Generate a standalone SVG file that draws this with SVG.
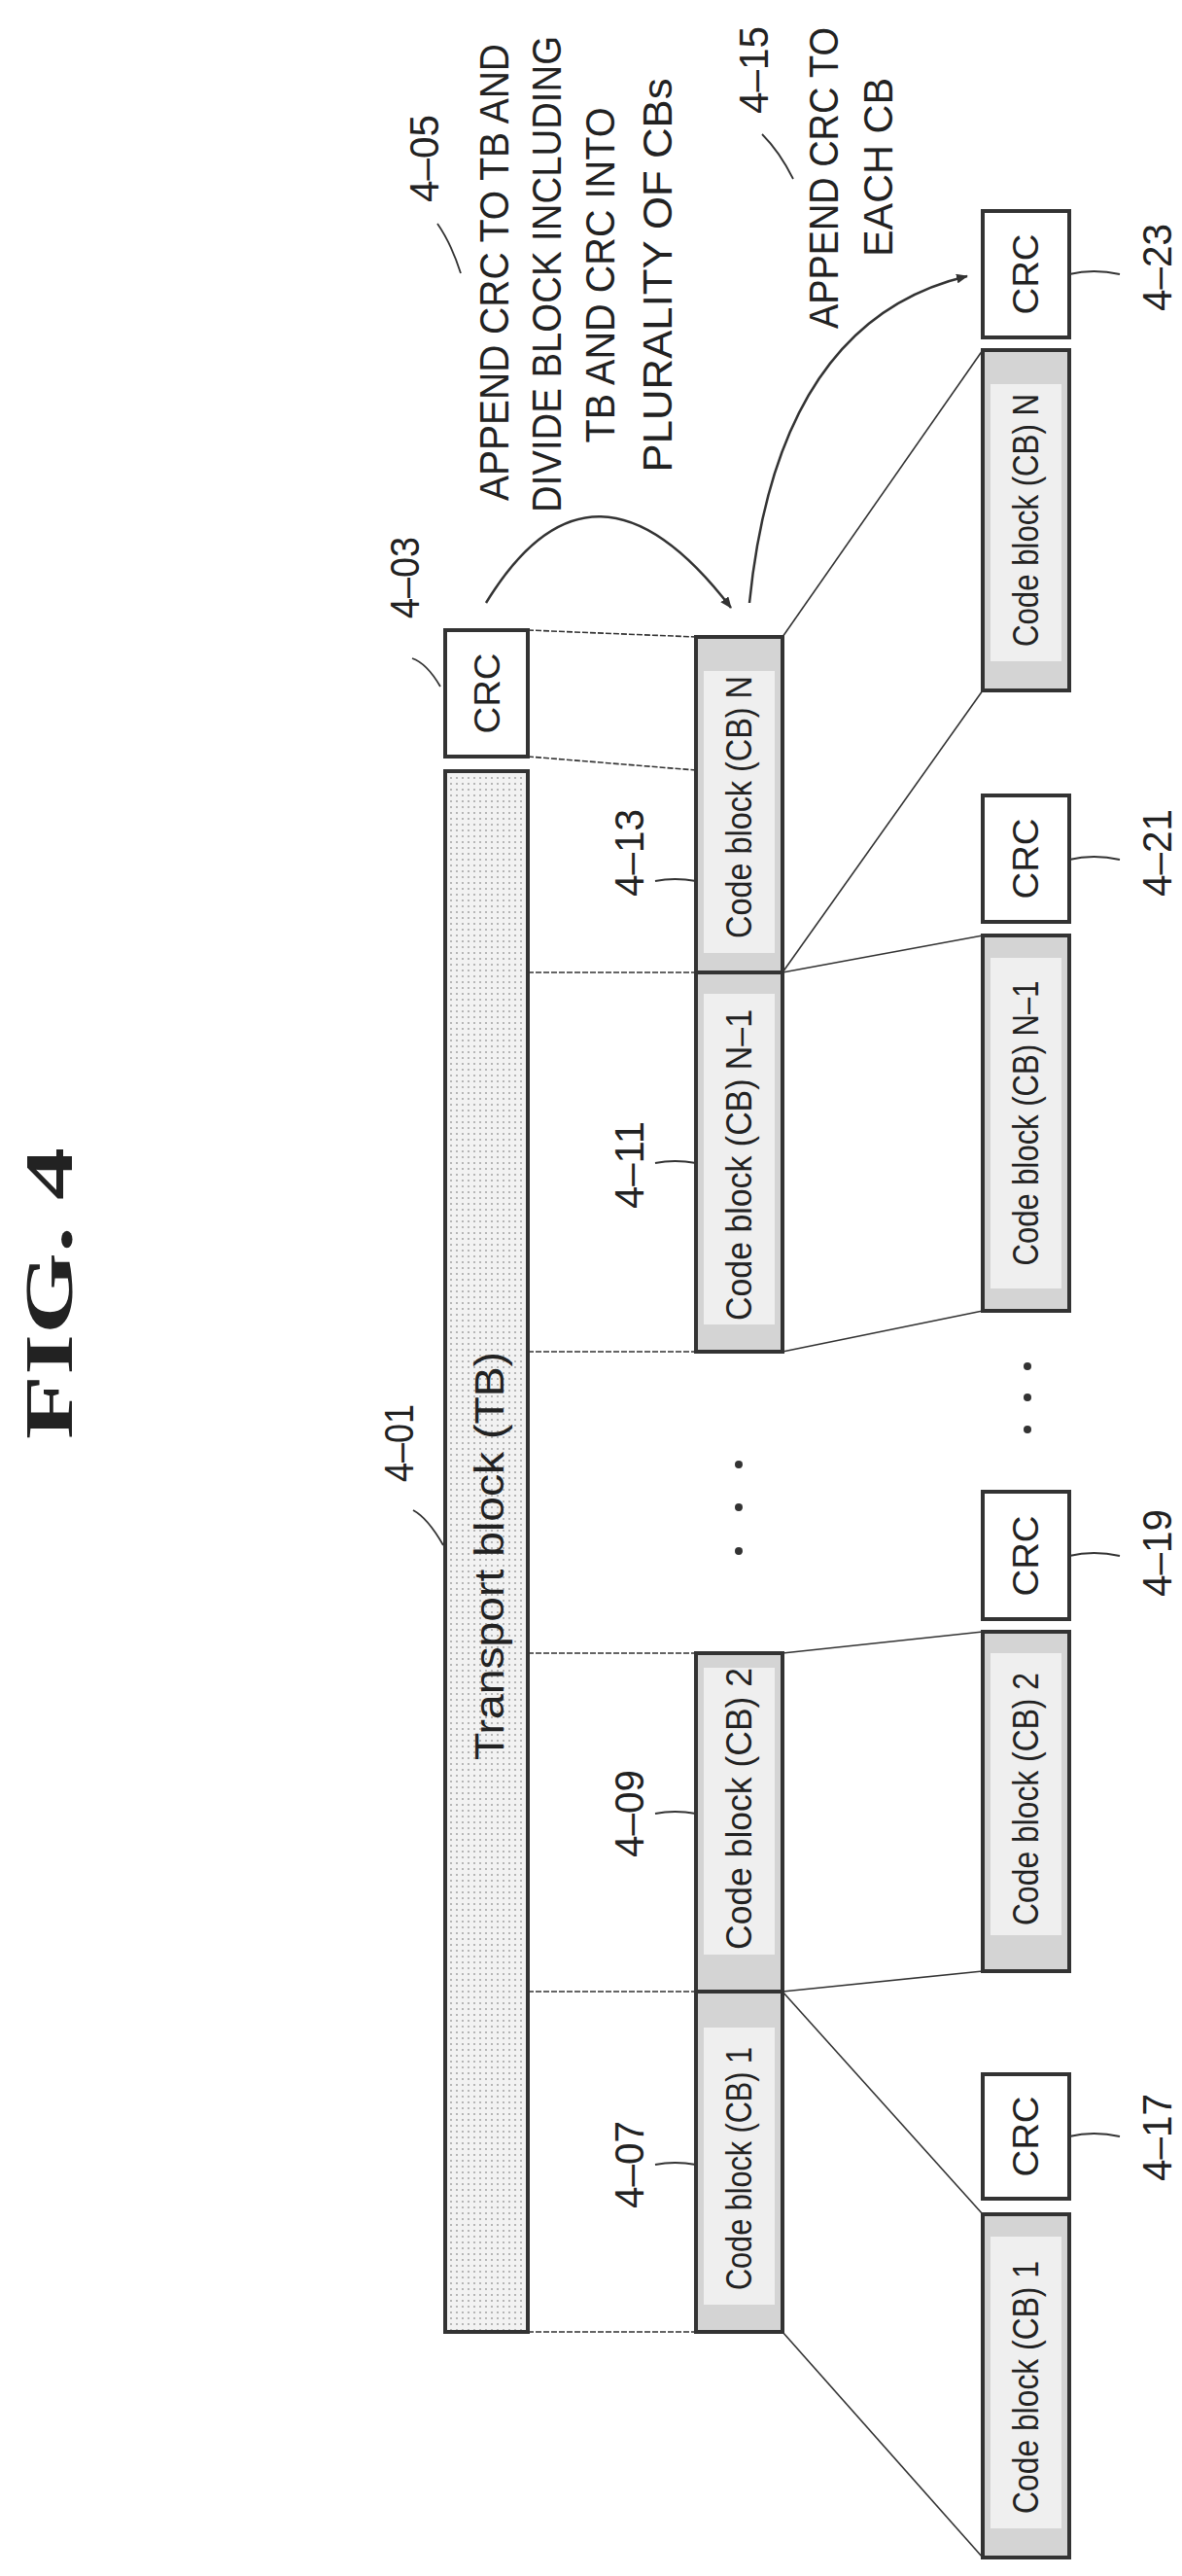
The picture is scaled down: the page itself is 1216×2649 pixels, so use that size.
<svg xmlns="http://www.w3.org/2000/svg" width="1216" height="2649" viewBox="0 0 1216 2649">
<style>
text{font-family:"Liberation Sans",Arial,sans-serif;fill:#222}
.box{fill:#fff;stroke:#333;stroke-width:4}
.tb{fill:url(#dots);stroke:#333;stroke-width:4}
.cb{fill:#d4d4d4;stroke:#333;stroke-width:4}
.cbi{fill:#efefef;stroke:none}
.ln{stroke:#333;stroke-width:1.6;fill:none}
.dl{stroke:#333;stroke-width:1.6;fill:none;stroke-dasharray:6 2}
.ld{stroke:#333;stroke-width:1.8;fill:none}
.arc{stroke:#333;stroke-width:2.5;fill:none;marker-end:url(#ah)}
.t{font-size:36px}
.n{font-size:42px}
</style>
<defs>
<pattern id="dots" width="6" height="6" patternUnits="userSpaceOnUse">
<rect width="6" height="6" fill="#f2f2f2"/><circle cx="2" cy="2" r="0.9" fill="#999"/>
</pattern>
<marker id="ah" markerWidth="12" markerHeight="10" refX="11" refY="5" orient="auto" markerUnits="userSpaceOnUse">
<path d="M0,0 L12,5 L0,10 z" fill="#333"/>
</marker>
</defs>

<text x="50" y="1330" transform="rotate(-90 50 1330)" text-anchor="middle" dominant-baseline="central" style="font-family:'Liberation Serif',serif;font-weight:bold;font-size:70px" textLength="300" lengthAdjust="spacingAndGlyphs">FIG. 4</text>

<g id="connectors">
<line class="dl" x1="543" y1="648" x2="716" y2="655"/>
<line class="dl" x1="543" y1="778" x2="716" y2="792"/>
<line class="dl" x1="543" y1="1000" x2="716" y2="1000"/>
<line class="dl" x1="543" y1="1390" x2="716" y2="1390"/>
<line class="dl" x1="543" y1="1700" x2="716" y2="1700"/>
<line class="dl" x1="543" y1="2048" x2="716" y2="2048"/>
<line class="dl" x1="543" y1="2398" x2="716" y2="2398"/>
<line class="ln" x1="805" y1="655" x2="1011" y2="360"/>
<line class="ln" x1="805" y1="1000" x2="1011" y2="710"/>
<line class="ln" x1="805" y1="1000" x2="1011" y2="962"/>
<line class="ln" x1="805" y1="1390" x2="1011" y2="1348"/>
<line class="ln" x1="805" y1="1700" x2="1011" y2="1678"/>
<line class="ln" x1="805" y1="2048" x2="1011" y2="2027"/>
<line class="ln" x1="805" y1="2048" x2="1011" y2="2277"/>
<line class="ln" x1="805" y1="2398" x2="1011" y2="2630"/>
<path class="arc" d="M500,620 Q610,440 752,625"/>
<path class="arc" d="M771,620 Q800,330 995,284"/>
<path class="ld" d="M424,677 q15,5 29,29"/>
<path class="ld" d="M425,1553 q15,8 31,36"/>
<path class="ld" d="M450,230 q14,20 24,51"/>
<path class="ld" d="M784,138 q18,18 32,46"/>
<path class="ld" d="M674,906 q20,-4 42,0"/>
<path class="ld" d="M674,1196 q20,-4 42,0"/>
<path class="ld" d="M674,1865 q20,-4 42,0"/>
<path class="ld" d="M674,2226 q20,-4 42,0"/>
<path class="ld" d="M1100,282 q25,-6 52,0"/>
<path class="ld" d="M1100,884 q25,-6 52,0"/>
<path class="ld" d="M1100,1600 q25,-6 52,0"/>
<path class="ld" d="M1100,2197 q25,-6 52,0"/>
</g>

<g id="n401">
<rect class="tb" x="458" y="793" width="85" height="1605"/>
<text class="n" x="503" y="1600" transform="rotate(-90 503 1600)" text-anchor="middle" dominant-baseline="central" textLength="420" lengthAdjust="spacingAndGlyphs">Transport block (TB)</text>
<text class="n" x="410" y="1484" transform="rotate(-90 410 1484)" text-anchor="middle" dominant-baseline="central" textLength="80" lengthAdjust="spacingAndGlyphs">4–01</text>
</g>
<g id="n403">
<rect class="box" x="458" y="648" width="85" height="130"/>
<text class="t" x="501" y="713" transform="rotate(-90 501 713)" text-anchor="middle" dominant-baseline="central" textLength="83" lengthAdjust="spacingAndGlyphs">CRC</text>
<text class="n" x="416" y="594" transform="rotate(-90 416 594)" text-anchor="middle" dominant-baseline="central" textLength="84" lengthAdjust="spacingAndGlyphs">4–03</text>
</g>
<g id="n405">
<text class="n" x="436" y="163" transform="rotate(-90 436 163)" text-anchor="middle" dominant-baseline="central" textLength="90" lengthAdjust="spacingAndGlyphs">4–05</text>
<text class="n" transform="rotate(-90 508 280)" x="508" y="280" text-anchor="middle" dominant-baseline="central" textLength="470" lengthAdjust="spacingAndGlyphs">APPEND CRC TO TB AND</text>
<text class="n" transform="rotate(-90 562 282)" x="562" y="282" text-anchor="middle" dominant-baseline="central" textLength="490" lengthAdjust="spacingAndGlyphs">DIVIDE BLOCK INCLUDING</text>
<text class="n" transform="rotate(-90 617 283)" x="617" y="283" text-anchor="middle" dominant-baseline="central" textLength="345" lengthAdjust="spacingAndGlyphs">TB AND CRC INTO</text>
<text class="n" transform="rotate(-90 676 283)" x="676" y="283" text-anchor="middle" dominant-baseline="central" textLength="405" lengthAdjust="spacingAndGlyphs">PLURALITY OF CBs</text>
</g>
<g id="n415">
<text class="n" x="775" y="72" transform="rotate(-90 775 72)" text-anchor="middle" dominant-baseline="central" textLength="90" lengthAdjust="spacingAndGlyphs">4–15</text>
<text class="n" transform="rotate(-90 847 183)" x="847" y="183" text-anchor="middle" dominant-baseline="central" textLength="310" lengthAdjust="spacingAndGlyphs">APPEND CRC TO</text>
<text class="n" transform="rotate(-90 903 172)" x="903" y="172" text-anchor="middle" dominant-baseline="central" textLength="184" lengthAdjust="spacingAndGlyphs">EACH CB</text>
</g>

<g id="n413">
<rect class="cb" x="716" y="655" width="89" height="345"/><rect class="cbi" x="724" y="690" width="73" height="290"/>
<text class="t" x="760" y="830" transform="rotate(-90 760 830)" text-anchor="middle" dominant-baseline="central" textLength="270" lengthAdjust="spacingAndGlyphs">Code block (CB) N</text>
<text class="n" x="647" y="877" transform="rotate(-90 647 877)" text-anchor="middle" dominant-baseline="central" textLength="90" lengthAdjust="spacingAndGlyphs">4–13</text>
</g>
<g id="n411">
<rect class="cb" x="716" y="1000" width="89" height="390"/><rect class="cbi" x="724" y="1022" width="73" height="340"/>
<text class="t" x="760" y="1198" transform="rotate(-90 760 1198)" text-anchor="middle" dominant-baseline="central" textLength="320" lengthAdjust="spacingAndGlyphs">Code block (CB) N–1</text>
<text class="n" x="647" y="1198" transform="rotate(-90 647 1198)" text-anchor="middle" dominant-baseline="central" textLength="90" lengthAdjust="spacingAndGlyphs">4–11</text>
</g>
<g id="n409">
<rect class="cb" x="716" y="1700" width="89" height="348"/><rect class="cbi" x="724" y="1715" width="73" height="295"/>
<text class="t" x="760" y="1860" transform="rotate(-90 760 1860)" text-anchor="middle" dominant-baseline="central" textLength="290" lengthAdjust="spacingAndGlyphs">Code block (CB) 2</text>
<text class="n" x="647" y="1865" transform="rotate(-90 647 1865)" text-anchor="middle" dominant-baseline="central" textLength="90" lengthAdjust="spacingAndGlyphs">4–09</text>
</g>
<g id="n407">
<rect class="cb" x="716" y="2048" width="89" height="350"/><rect class="cbi" x="724" y="2085" width="73" height="285"/>
<text class="t" x="760" y="2230" transform="rotate(-90 760 2230)" text-anchor="middle" dominant-baseline="central" textLength="250" lengthAdjust="spacingAndGlyphs">Code block (CB) 1</text>
<text class="n" x="647" y="2226" transform="rotate(-90 647 2226)" text-anchor="middle" dominant-baseline="central" textLength="90" lengthAdjust="spacingAndGlyphs">4–07</text>
</g>
<g id="dots1" fill="#333"><circle cx="760" cy="1506" r="4"/><circle cx="760" cy="1550" r="4"/><circle cx="760" cy="1595" r="4"/></g>
<g id="dots2" fill="#333"><circle cx="1057" cy="1405" r="4"/><circle cx="1057" cy="1437" r="4"/><circle cx="1057" cy="1470" r="4"/></g>

<g id="n423">
<rect class="box" x="1011" y="217" width="89" height="130"/>
<text class="t" x="1055" y="282" transform="rotate(-90 1055 282)" text-anchor="middle" dominant-baseline="central" textLength="83" lengthAdjust="spacingAndGlyphs">CRC</text>
<text class="n" x="1190" y="275" transform="rotate(-90 1190 275)" text-anchor="middle" dominant-baseline="central" textLength="90" lengthAdjust="spacingAndGlyphs">4–23</text>
</g>
<g id="rcbN">
<rect class="cb" x="1011" y="360" width="89" height="350"/><rect class="cbi" x="1019" y="395" width="73" height="285"/>
<text class="t" x="1055" y="535" transform="rotate(-90 1055 535)" text-anchor="middle" dominant-baseline="central" textLength="260" lengthAdjust="spacingAndGlyphs">Code block (CB) N</text>
</g>
<g id="n421">
<rect class="box" x="1011" y="818" width="89" height="130"/>
<text class="t" x="1055" y="883" transform="rotate(-90 1055 883)" text-anchor="middle" dominant-baseline="central" textLength="83" lengthAdjust="spacingAndGlyphs">CRC</text>
<text class="n" x="1190" y="877" transform="rotate(-90 1190 877)" text-anchor="middle" dominant-baseline="central" textLength="90" lengthAdjust="spacingAndGlyphs">4–21</text>
</g>
<g id="rcbN1">
<rect class="cb" x="1011" y="962" width="89" height="386"/><rect class="cbi" x="1019" y="985" width="73" height="340"/>
<text class="t" x="1055" y="1155" transform="rotate(-90 1055 1155)" text-anchor="middle" dominant-baseline="central" textLength="293" lengthAdjust="spacingAndGlyphs">Code block (CB) N–1</text>
</g>
<g id="n419">
<rect class="box" x="1011" y="1534" width="89" height="131"/>
<text class="t" x="1055" y="1600" transform="rotate(-90 1055 1600)" text-anchor="middle" dominant-baseline="central" textLength="83" lengthAdjust="spacingAndGlyphs">CRC</text>
<text class="n" x="1190" y="1597" transform="rotate(-90 1190 1597)" text-anchor="middle" dominant-baseline="central" textLength="90" lengthAdjust="spacingAndGlyphs">4–19</text>
</g>
<g id="rcb2">
<rect class="cb" x="1011" y="1678" width="89" height="349"/><rect class="cbi" x="1019" y="1700" width="73" height="290"/>
<text class="t" x="1055" y="1850" transform="rotate(-90 1055 1850)" text-anchor="middle" dominant-baseline="central" textLength="260" lengthAdjust="spacingAndGlyphs">Code block (CB) 2</text>
</g>
<g id="n417">
<rect class="box" x="1011" y="2133" width="89" height="128"/>
<text class="t" x="1055" y="2197" transform="rotate(-90 1055 2197)" text-anchor="middle" dominant-baseline="central" textLength="83" lengthAdjust="spacingAndGlyphs">CRC</text>
<text class="n" x="1190" y="2198" transform="rotate(-90 1190 2198)" text-anchor="middle" dominant-baseline="central" textLength="90" lengthAdjust="spacingAndGlyphs">4–17</text>
</g>
<g id="rcb1">
<rect class="cb" x="1011" y="2277" width="89" height="353"/><rect class="cbi" x="1019" y="2300" width="73" height="300"/>
<text class="t" x="1055" y="2455" transform="rotate(-90 1055 2455)" text-anchor="middle" dominant-baseline="central" textLength="260" lengthAdjust="spacingAndGlyphs">Code block (CB) 1</text>
</g>
</svg>
